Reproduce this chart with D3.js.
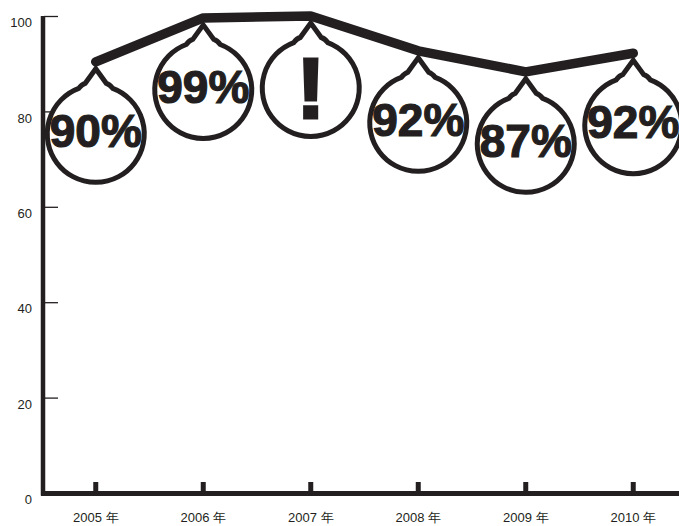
<!DOCTYPE html>
<html>
<head>
<meta charset="utf-8">
<script src="https://cdn.jsdelivr.net/npm/d3@7"></script>
<style>
  html, body { margin: 0; padding: 0; background: #fff; }
  svg { display: block; }
</style>
</head>
<body>
<svg id="chart" width="679" height="526"></svg>
<script>
const years = ["2005 年", "2006 年", "2007 年", "2008 年", "2009 年", "2010 年"];
const values = [90.4, 99.6, 100, 92.7, 88.3, 92.2];
const bubbleLabels = ["90%", "99%", "!", "92%", "87%", "92%"];
const yTicks = [0, 20, 40, 60, 80, 100];

const ink = "#231f20";
const svg = d3.select("#chart");

const x = d3.scaleBand().domain(years).range([42, 687]);
const y = d3.scaleLinear().domain([0, 100]).range([493, 16]);
const cx = d => x(d) + x.bandwidth() / 2;

// y axis
const yAxis = svg.append("g")
    .attr("transform", "translate(44,0)")
    .call(d3.axisLeft(y).tickValues(yTicks).tickSize(-14).tickPadding(12));
yAxis.select(".domain").remove();
yAxis.selectAll(".tick line").attr("stroke", ink).attr("stroke-width", 1.3);
yAxis.selectAll(".tick text")
    .attr("fill", ink)
    .attr("dy", "0.82em")
    .style("font-family", "Liberation Sans, Arial, sans-serif")
    .style("font-size", "13px");

// x axis
const xAxis = svg.append("g")
    .attr("transform", "translate(0,493)")
    .call(d3.axisBottom(x).tickSize(-11).tickPadding(20));
xAxis.select(".domain").remove();
xAxis.selectAll(".tick line").attr("stroke", ink).attr("stroke-width", 5);
xAxis.selectAll(".tick text")
    .attr("fill", ink)
    .style("font-family", "Liberation Sans, Arial, sans-serif")
    .style("font-size", "13px");

svg.append("line")
    .attr("x1", 43).attr("x2", 43)
    .attr("y1", y(100)).attr("y2", y(0) + 2.5)
    .attr("stroke", ink).attr("stroke-width", 4.5);
svg.append("line")
    .attr("x1", 41).attr("x2", 679)
    .attr("y1", y(0) + 0.5).attr("y2", y(0) + 0.5)
    .attr("stroke", ink).attr("stroke-width", 5);

// bubbles
const r = 48.5;
const bubblePath = `M-17,-45.4 Q-14,-49.5 -10.5,-50.5 L0,-65 L10.5,-50.5 Q14,-49.5 17,-45.4 A${r},${r} 0 1 1 -17,-45.4 Z`;

const bubbles = svg.append("g")
    .selectAll("g")
    .data(years)
    .join("g")
    .attr("transform", (d, i) => `translate(${cx(d)},${y(values[i]) + 72})`);

bubbles.append("path")
    .attr("d", bubblePath)
    .attr("fill", "#fff")
    .attr("stroke", ink)
    .attr("stroke-width", 5)
    .attr("stroke-linejoin", "miter");

bubbles.append("text")
    .attr("text-anchor", "middle")
    .attr("y", (d, i) => bubbleLabels[i] === "!" ? 30 : 13)
    .attr("fill", ink)
    .attr("stroke", ink)
    .attr("stroke-width", (d, i) => bubbleLabels[i] === "!" ? 3 : 1.2)
    .style("font-family", "Liberation Sans, Arial, sans-serif")
    .style("font-weight", "bold")
    .style("font-size", (d, i) => bubbleLabels[i] === "!" ? "86px" : "46px")
    .text((d, i) => bubbleLabels[i]);

// line
const line = d3.line()
    .x(d => cx(d[0]))
    .y(d => y(d[1]));

svg.append("path")
    .datum(years.map((d, i) => [d, values[i]]))
    .attr("d", line)
    .attr("fill", "none")
    .attr("stroke", ink)
    .attr("stroke-width", 9.5)
    .attr("stroke-linecap", "round")
    .attr("stroke-linejoin", "round");
</script>
</body>
</html>
